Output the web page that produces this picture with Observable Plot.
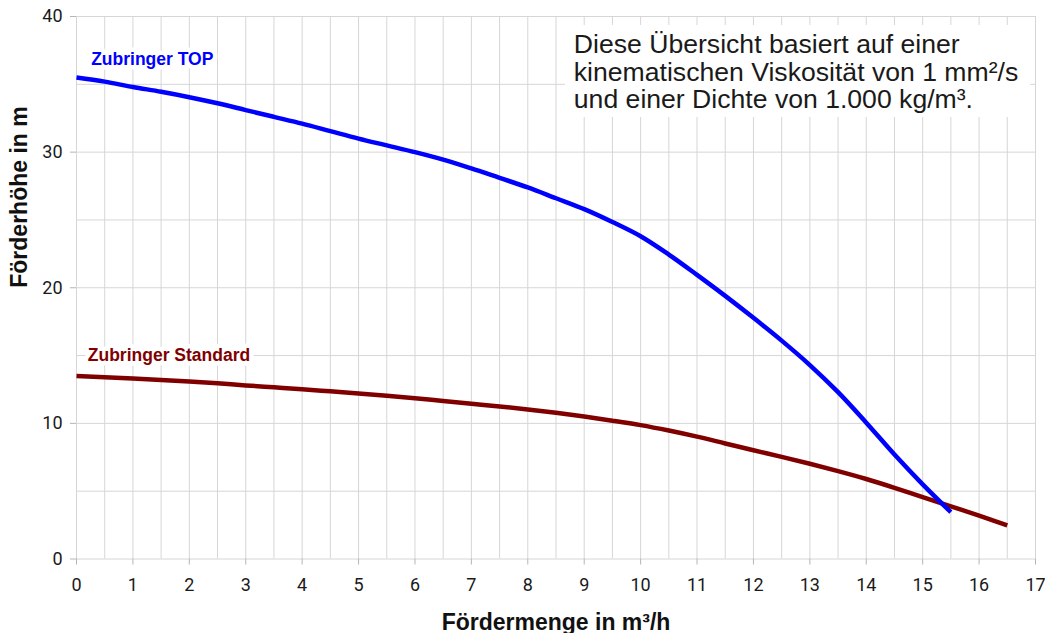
<!DOCTYPE html>
<html><head><meta charset="utf-8">
<script src="https://cdn.jsdelivr.net/npm/d3@7"></script>
<script src="https://cdn.jsdelivr.net/npm/@observablehq/plot@0.6"></script>
<style>body{margin:0;background:#fff}</style>
</head><body><div id="chart"></div>
<script>
const flowTop = [0,0.5,1,1.5,2,2.5,3,3.5,4,4.5,5,5.5,6,6.5,7,7.5,8,8.5,9,9.5,10,10.5,11,11.5,12,12.5,13,13.5,14,14.5,15,15.5];
const headTop = [35.5,35.2,34.8,34.45,34.05,33.6,33.1,32.6,32.1,31.55,31.0,30.5,30.0,29.45,28.8,28.1,27.4,26.6,25.8,24.85,23.8,22.45,20.95,19.4,17.78,16.1,14.3,12.3,10.05,7.7,5.5,3.45];
const flowStd = [0,0.5,1,1.5,2,2.5,3,3.5,4,4.5,5,5.5,6,6.5,7,7.5,8,8.5,9,9.5,10,10.5,11,11.5,12,12.5,13,13.5,14,14.5,15,15.5,16,16.5];
const headStd = [13.5,13.4,13.3,13.2,13.08,12.95,12.8,12.66,12.52,12.36,12.2,12.03,11.85,11.65,11.45,11.25,11.03,10.78,10.5,10.2,9.87,9.47,9.02,8.52,8.02,7.53,7.02,6.48,5.9,5.25,4.56,3.88,3.2,2.48];
const seriesNames = ["Zubringer TOP", "Zubringer Standard"];
const xTicks = [0,1,2,3,4,5,6,7,8,9,10,11,12,13,14,15,16,17];
const yTicks = [0,10,20,30,40];
const xGrid = [0,0.5,1,1.5,2,2.5,3,3.5,4,4.5,5,5.5,6,6.5,7,7.5,8,8.5,9,9.5,10,10.5,11,11.5,12,12.5,13,13.5,14,14.5,15,15.5,16,16.5,17];
const yGrid = [0,5,10,15,20,25,30,35,40];
const xLabel = "Fördermenge in m³/h";
const yLabel = "Förderhöhe in m";
const noteLines = ["Diese Übersicht basiert auf einer", "kinematischen Viskosität von 1 mm²/s", "und einer Dichte von 1.000 kg/m³."];

const topData = flowTop.map((x, i) => ({x, y: headTop[i]}));
const stdData = flowStd.map((x, i) => ({x, y: headStd[i]}));
const sans = "'Liberation Sans', Arial, sans-serif";
const gridColor = "#d6d6d6";

const chart = Plot.plot({
  width: 1045,
  height: 633,
  marginLeft: 76,
  marginRight: 10,
  marginTop: 16,
  marginBottom: 74.5,
  x: {domain: [0, 17]},
  y: {domain: [0, 40]},
  style: {fontFamily: "Roboto, sans-serif", background: "#fff", color: "#1a1a1a"},
  marks: [
    Plot.ruleX(xGrid, {stroke: gridColor, strokeWidth: 1}),
    Plot.ruleY(yGrid, {stroke: gridColor, strokeWidth: 1}),
    Plot.axisX({ticks: xTicks, tickSize: 6, tickPadding: 13, fontSize: 18, label: null, stroke: "#b5b5b5", fill: "#1a1a1a"}),
    Plot.axisY({ticks: yTicks, tickSize: 6, tickPadding: 8, fontSize: 18, label: null, stroke: "#b5b5b5", fill: "#1a1a1a"}),
    Plot.rect([0], {x1: 8.67, x2: 16.91, y1: 32.55, y2: 39.34, fill: "white"}),
    Plot.text([noteLines.join("\n")], {text: d => d, x: 8.816, y: 33.25, textAnchor: "start", lineAnchor: "bottom", lineHeight: 1.03, fontSize: 26.6, fontFamily: sans, fill: "#1a1a1a"}),
    Plot.text([seriesNames[0]], {text: d => d, x: 0.26, y: 36.39, textAnchor: "start", lineAnchor: "bottom", fontSize: 17.5, fontWeight: "bold", fontFamily: sans, fill: "#0000ff", stroke: "white", strokeWidth: 9, paintOrder: "stroke"}),
    Plot.text([seriesNames[1]], {text: d => d, x: 0.2, y: 14.58, textAnchor: "start", lineAnchor: "bottom", fontSize: 17.5, fontWeight: "bold", fontFamily: sans, fill: "#800000", stroke: "white", strokeWidth: 9, paintOrder: "stroke"}),
    Plot.line(stdData, {x: "x", y: "y", stroke: "#800000", strokeWidth: 4.5, curve: "catmull-rom", strokeLinecap: "butt"}),
    Plot.line(topData, {x: "x", y: "y", stroke: "#0000ff", strokeWidth: 4.5, curve: "catmull-rom", strokeLinecap: "butt"}),
    Plot.text([xLabel], {text: d => d, frameAnchor: "bottom", lineAnchor: "bottom", dy: 70.5, fontSize: 23, fontWeight: "bold", fontFamily: sans, fill: "#111"}),
    Plot.text([yLabel], {text: d => d, frameAnchor: "left", rotate: -90, dx: -56.4, fontSize: 23, fontWeight: "bold", fontFamily: sans, fill: "#111"})
  ]
});
document.getElementById("chart").appendChild(chart);
</script>
</body></html>
